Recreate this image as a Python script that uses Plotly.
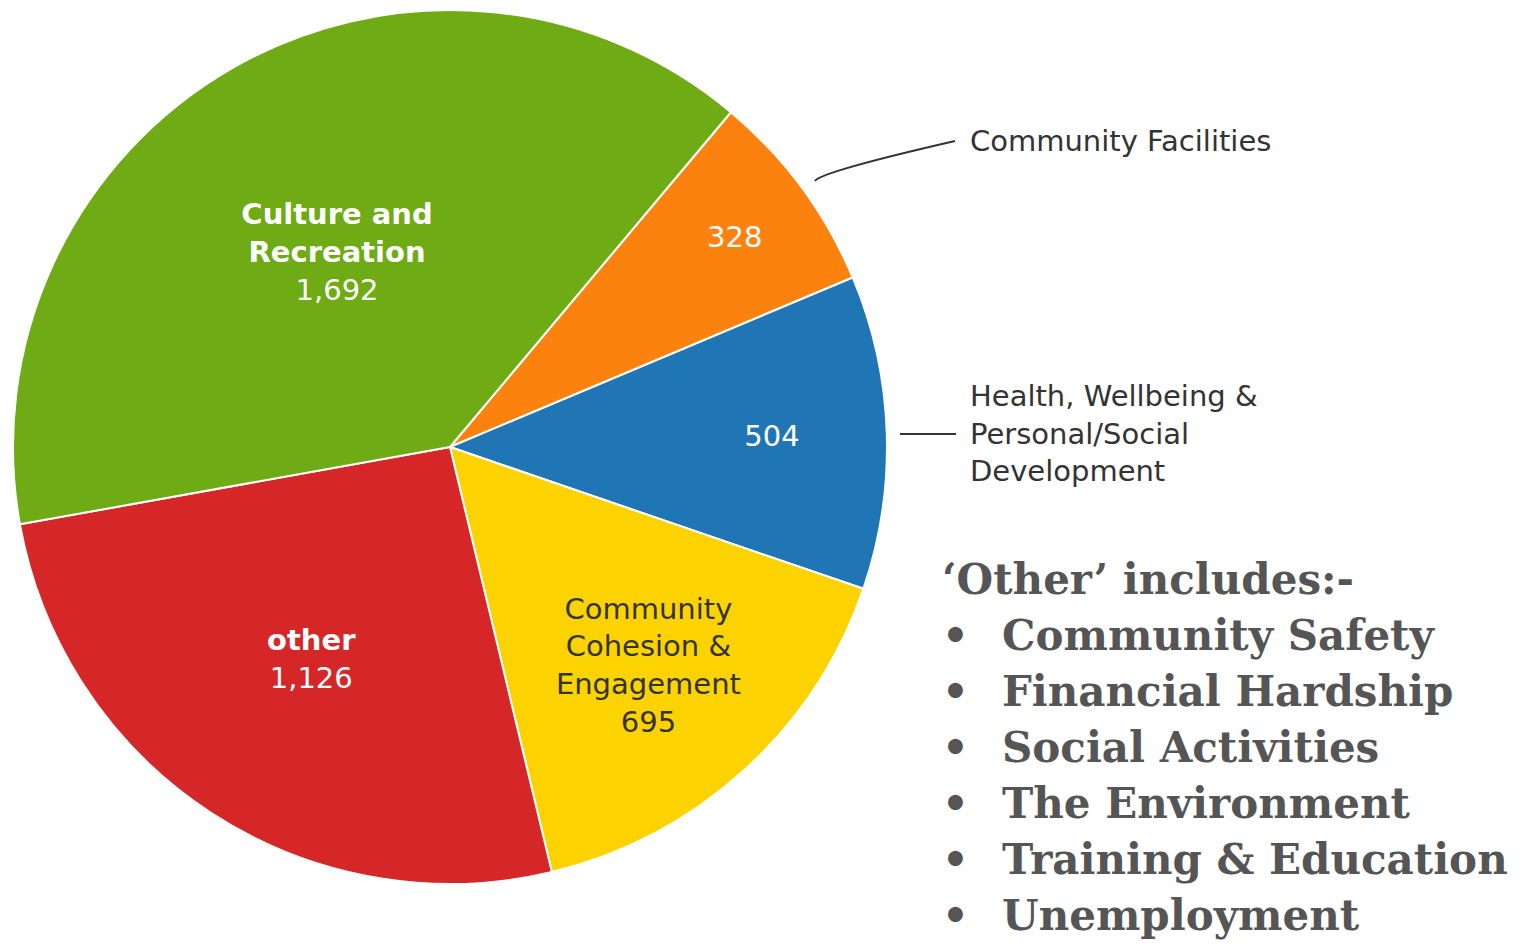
import plotly.graph_objects as go

# slices, in clockwise order starting from the Community Facilities slice
categories = [
    "Community Facilities",
    "Health, Wellbeing & Personal/Social Development",
    "Community Cohesion & Engagement",
    "other",
    "Culture and Recreation",
]
values = [328, 504, 695, 1126, 1692]
colors = ["#fc820f", "#2076b4", "#fcd300", "#d62728", "#6eab15"]
inside_labels = ["", "", "Community<br>Cohesion &<br>Engagement", "<b>other</b>", "<b>Culture and<br>Recreation</b>"]
text_colors = ["white", "white", "#333333", "white", "white"]

other_title = "‘Other’ includes:-"
other_items = [
    "Community Safety",
    "Financial Hardship",
    "Social Activities",
    "The Environment",
    "Training & Education",
    "Unemployment",
]

# page body has an 8px margin, so the figure is shrunk to fit the window
W, H = 1520, 934
OFF = 8


def px(x):
    return (x - OFF) / W


def py(y):
    return 1 - (y - OFF) / H


templates = []
for lab in inside_labels:
    templates.append((lab + "<br>" if lab else "") + "%{value:,}")

fig = go.Figure()
fig.add_trace(go.Pie(
    labels=categories,
    values=values,
    sort=False,
    direction="clockwise",
    rotation=40,
    marker=dict(colors=colors, line=dict(color="white", width=2)),
    texttemplate=templates,
    textposition="inside",
    insidetextorientation="horizontal",
    textfont=dict(family="DejaVu Sans, Verdana", size=29, color=text_colors),
    domain=dict(x=[px(13), px(887)], y=[py(884), py(10)]),
    showlegend=False,
    hoverinfo="label+value",
))

label_font = dict(family="DejaVu Sans, Verdana", size=29, color="#333333")
fig.add_annotation(x=px(968), y=py(141), xref="paper", yref="paper", text="Community Facilities",
                   showarrow=False, xanchor="left", yanchor="middle", font=label_font)
fig.add_annotation(x=px(968), y=py(433), xref="paper", yref="paper",
                   text="Health, Wellbeing &<br>Personal/Social<br>Development",
                   showarrow=False, xanchor="left", yanchor="middle", align="left", font=label_font)

# leader lines
fig.add_shape(type="path", xref="paper", yref="paper",
              path=f"M {px(815)} {py(181)} Q {px(820)} {py(172)} {px(955)} {py(141)}",
              line=dict(color="#333333", width=2))
fig.add_shape(type="line", xref="paper", yref="paper",
              x0=px(900), y0=py(434), x1=px(956), y1=py(434),
              line=dict(color="#333333", width=2))

serif = dict(family="DejaVu Serif, Georgia, serif", size=42, color="#555555")
fig.add_annotation(x=px(940), y=py(579), xref="paper", yref="paper", text=f"<b>{other_title}</b>",
                   showarrow=False, xanchor="left", yanchor="middle", font=serif)
for i, item in enumerate(other_items):
    yy = py(635 + i * 56)
    fig.add_annotation(x=px(940), y=yy, xref="paper", yref="paper", text="<b>•</b>",
                       showarrow=False, xanchor="left", yanchor="middle", font=serif)
    fig.add_annotation(x=px(1000), y=yy, xref="paper", yref="paper", text=f"<b>{item}</b>",
                       showarrow=False, xanchor="left", yanchor="middle", font=serif)

fig.update_layout(
    width=W, height=H,
    margin=dict(l=0, r=0, t=0, b=0),
    paper_bgcolor="white",
    plot_bgcolor="white",
)

fig.write_html("out.html")
